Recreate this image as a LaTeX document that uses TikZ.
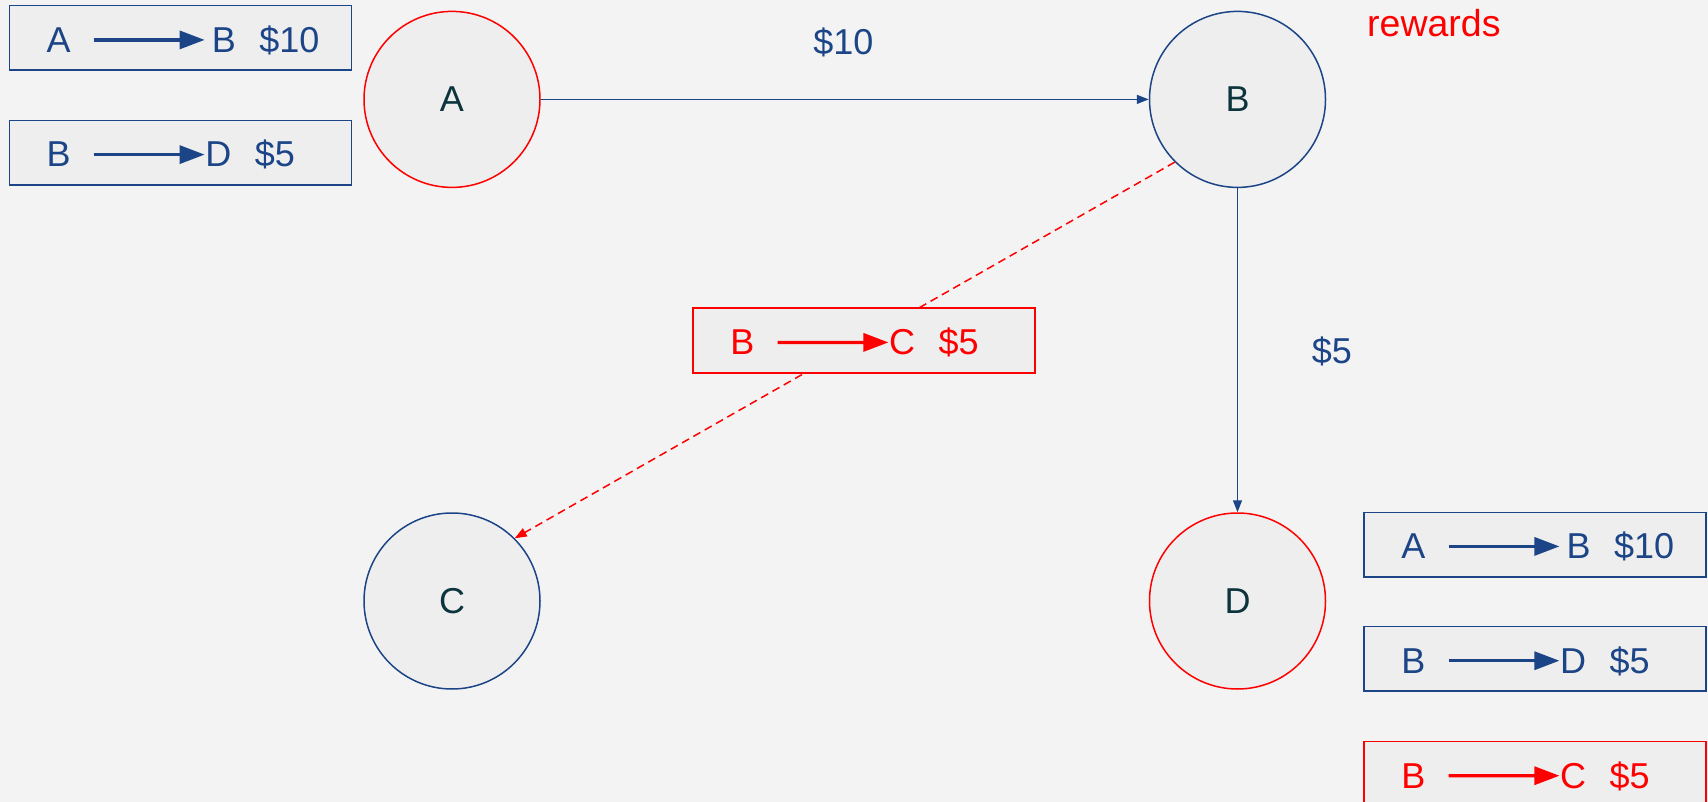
\documentclass[tikz,border=0pt]{standalone}
\usepackage{fontspec}
\setmainfont{Liberation Sans}
\usetikzlibrary{arrows.meta}

\definecolor{bg}{HTML}{F3F3F3}
\definecolor{panel}{HTML}{EEEEEE}
\definecolor{navy}{HTML}{1C4587}
\definecolor{ink}{HTML}{0C343D}
\definecolor{alert}{HTML}{FF0000}

\tikzset{
  txt/.style={inner sep=0pt, font=\fontsize{36}{43}\selectfont},
  state/.style={circle, minimum size=176pt, inner sep=0pt, fill=panel,
    line width=1.5pt, txt, text=ink},
  keybox/.style={rectangle, minimum width=342pt, minimum height=64.5pt,
    inner sep=0pt, fill=panel, line width=1.5pt},
  edge/.style={line width=1.5pt, -{Triangle[length=12pt,width=9pt]}},
  keyarrow/.style={line width=3.2pt, -{Triangle[length=25pt,width=18pt]},
    shorten <=23pt},
}

% one legend row: box name, centre, colour, source, target, target offset, amount, amount offset
\newcommand{\legendrow}[8]{%
  \node[keybox, draw=#3] (#1) at #2 {};
  \node[txt, text=#3, anchor=base west] (#1s) at ([shift={(37.7,14.3)}]#1.west) {#4};
  \node[txt, text=#3, anchor=base west] (#1t) at ([shift={(#6,14.3)}]#1.west) {#5};
  \node[txt, text=#3, anchor=base west] (#1v) at ([shift={(#8,14.3)}]#1.west) {\$#7};
  \draw[keyarrow, draw=#3, fill=#3] (#1s.east) -- ([xshift=84.7+111.3pt-#6pt]#1t.west);
}

\begin{document}
\begin{tikzpicture}[x=1pt, y=-1pt]
  \fill[bg] (0,0) rectangle (1708,802);
  \useasboundingbox (0,0) rectangle (1708,802);

  % states
  \node[state, draw=alert] (A) at (452,99.4) {A};
  \node[state, draw=navy]  (B) at (1237.5,99.4) {B};
  \node[state, draw=navy]  (C) at (452,601) {C};
  \node[state, draw=alert] (D) at (1237.5,601) {D};

  % transitions
  \draw[edge, navy] (A.east) -- (B.west);
  \draw[edge, navy] (B.south) -- (D.north);
  \draw[edge, alert, dash pattern=on 8pt off 5pt] (B.south west) -- (C.north east);

  \node[txt, text=navy, anchor=base west] (ab) at (813.2,55) {\$10};
  \node[txt, text=navy, anchor=base west] (bd) at (1311.6,363.3) {\$5};
  \node[txt, text=alert, anchor=base west, font=\fontsize{37.5}{44}\selectfont]
    (rw) at (1367,37) {rewards};

  % reward legends
  \legendrow{k1}{(180.4,38)}{navy}{A}{B}{203}{10}{250.5}
  \legendrow{k2}{(180.4,152.7)}{navy}{B}{D}{196.5}{5}{246}
  \legendrow{k3}{(864.2,340.5)}{alert}{B}{C}{196.5}{5}{246}
  \legendrow{k4}{(1535.2,544.5)}{navy}{A}{B}{203}{10}{250.5}
  \legendrow{k5}{(1535.2,658.8)}{navy}{B}{D}{196.5}{5}{246}
  \legendrow{k6}{(1535.2,773.8)}{alert}{B}{C}{196.5}{5}{246}
\end{tikzpicture}
\end{document}
